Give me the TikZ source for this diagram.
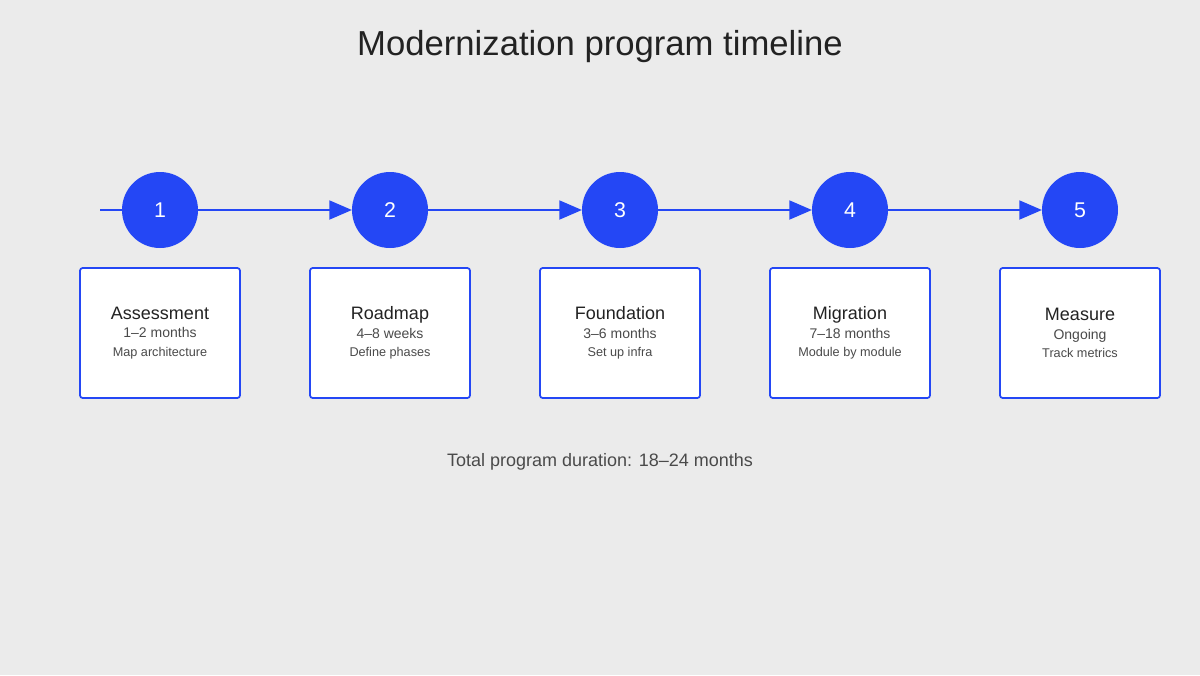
\documentclass[tikz,border=0pt]{standalone}
\usepackage{fontspec}
\setmainfont{Liberation Sans}
\usetikzlibrary{arrows.meta}
\definecolor{stepblue}{HTML}{2447F5}
\definecolor{bgcol}{HTML}{EBEBEB}
\definecolor{titlecol}{HTML}{222222}
\definecolor{subcol}{HTML}{4A4A4A}
\tikzset{
  stepdot/.style={circle, fill=stepblue, minimum size=57pt, inner sep=0pt, text=white, font=\fontsize{16}{18}\selectfont},
  stepbox/.style={draw=stepblue, line width=1.3pt, fill=white, rounded corners=2pt, minimum width=120pt, minimum height=97.5pt, align=center, text=titlecol},
  flow/.style={draw=stepblue, line width=2.2pt, -{Triangle[length=17pt,width=14pt]}},
}
\begin{document}
\begin{tikzpicture}[x=0.75pt, y=-0.75pt]
\fill[bgcol] (0,0) rectangle (1200,675);
\node[titlecol, font=\fontsize{26}{30}\selectfont] (title) at (600,47){Modernization program timeline};
\coordinate (start) at (100,210);
\foreach \i/\x/\name/\span/\task in {1/160/Assessment/1--2 months/Map architecture,
  2/390/Roadmap/4--8 weeks/Define phases,
  3/620/Foundation/3--6 months/Set up infra,
  4/850/Migration/7--18 months/Module by module,
  5/1080/Measure/Ongoing/Track metrics}{
  \node[stepbox] (b\i) at (\x,333){{\fontsize{13.5}{16}\selectfont \name}\\[2pt]
    {\color{subcol}\fontsize{10.5}{13}\selectfont \span}\\[2pt]
    {\color{subcol}\fontsize{9.5}{12}\selectfont \task}};
}
\draw[stepblue, line width=2.2pt] (start) -- (160,210);
\foreach \i/\j in {1/2,2/3,3/4,4/5}
  \draw[flow] (\i*230-70,210) -- (\j*230-70-38,210);
\foreach \i/\x in {1/160,2/390,3/620,4/850,5/1080}
  \node[stepdot] (c\i) at (\x,210){\i};
\node[subcol, font=\fontsize{13.5}{16}\selectfont] (total) at (600,462){Total program duration: 18--24 months};
\end{tikzpicture}
\end{document}
